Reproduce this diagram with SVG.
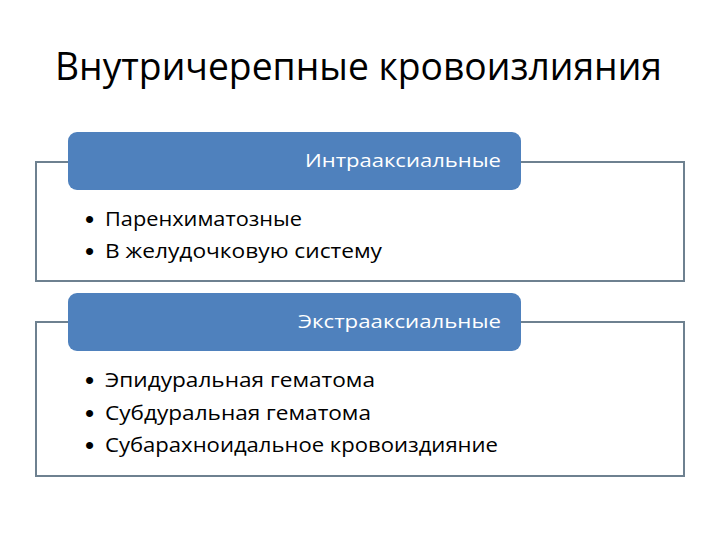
<svg xmlns="http://www.w3.org/2000/svg" width="720" height="540" viewBox="0 0 720 540">
<style>
.frame{fill:#ffffff;stroke:#6e8190;stroke-width:2}
.head{fill:#4f81bd}
.title{font-family:"Open Sans","Liberation Sans",sans-serif;font-size:38px;fill:#000}
.htext{font-family:"Open Sans","Liberation Sans",sans-serif;font-size:18.5px;fill:#ffffff;text-anchor:end}
.item{font-family:"Open Sans","Liberation Sans",sans-serif;font-size:19.5px;fill:#000}
.bul{font-family:"Liberation Sans",sans-serif;font-size:26px;fill:#000}
</style>
<rect width="720" height="540" fill="#ffffff"/>
<text id="title" class="title" x="55" y="80" textLength="607" lengthAdjust="spacingAndGlyphs">Внутричерепные кровоизлияния</text>
<g id="intra">
<rect class="frame" x="36" y="162" width="648" height="119"/>
<rect class="head" x="68" y="132" width="453" height="58" rx="9" ry="9"/>
<text class="htext" x="501" y="167" textLength="196" lengthAdjust="spacingAndGlyphs">Интрааксиальные</text>
<text class="bul" x="85" y="228">•</text>
<text class="item" x="105" y="226" textLength="197" lengthAdjust="spacingAndGlyphs">Паренхиматозные</text>
<text class="bul" x="85" y="260">•</text>
<text class="item" x="105" y="258" textLength="277" lengthAdjust="spacingAndGlyphs">В желудочковую систему</text>
</g>
<g id="extra">
<rect class="frame" x="36" y="322" width="648" height="154"/>
<rect class="head" x="68" y="293" width="453" height="58" rx="9" ry="9"/>
<text class="htext" x="501" y="328" textLength="203" lengthAdjust="spacingAndGlyphs">Экстрааксиальные</text>
<text class="bul" x="85" y="389">•</text>
<text class="item" x="105" y="387" textLength="270" lengthAdjust="spacingAndGlyphs">Эпидуральная гематома</text>
<text class="bul" x="85" y="421.5">•</text>
<text class="item" x="105" y="419.5" textLength="266" lengthAdjust="spacingAndGlyphs">Субдуральная гематома</text>
<text class="bul" x="85" y="454">•</text>
<text class="item" x="105" y="452" textLength="393" lengthAdjust="spacingAndGlyphs">Субарахноидальное кровоиздияние</text>
</g>
<g id="connectors"></g>
</svg>
